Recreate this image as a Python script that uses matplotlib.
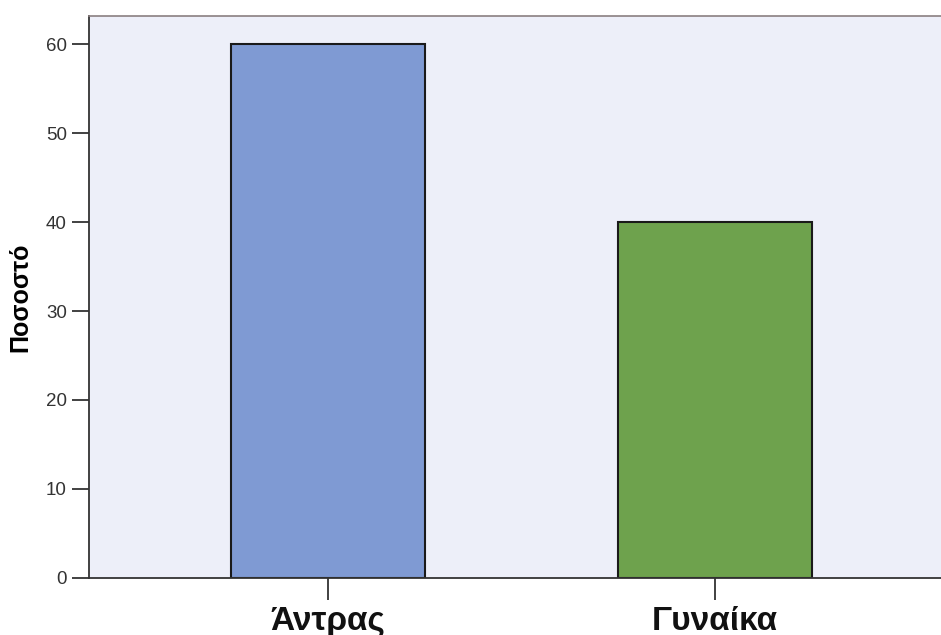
import matplotlib
matplotlib.use("Agg")
import matplotlib.pyplot as plt

# percentage by sex
categories = ["Άντρας", "Γυναίκα"]
percent = [60.0, 40.0]
bar_colors = ["#7f9ad3", "#6ea24d"]
yticks = [0, 10, 20, 30, 40, 50, 60]

plt.rcParams["font.family"] = ["Liberation Sans", "DejaVu Sans"]

fig = plt.figure(figsize=(9.41, 6.35), dpi=100)
ax = fig.add_axes([0.0946, 0.0898, 0.9054, 0.885])
ax.set_facecolor("#edeff9")

x = range(len(categories))
ax.bar(x, percent, width=0.5, color=bar_colors,
       edgecolor="#1a1a1a", linewidth=1.5, zorder=2)

ax.set_xlim(-0.618, 1.584)
ax.set_ylim(0, 63.15)

ax.set_yticks(yticks)
ax.set_xticks(list(x))
ax.set_xticklabels(categories, fontsize=24, fontweight="bold")
ax.tick_params(axis="y", length=12, width=1.3, labelsize=13.5,
               colors="#333333", pad=4)
ax.tick_params(axis="x", length=16, width=1.3, pad=4,
               colors="#333333", labelcolor="#111111")

ax.set_ylabel("Ποσοστό", fontsize=18, fontweight="bold", labelpad=10)

ax.spines["right"].set_visible(False)
ax.spines["left"].set_color("#333333")
ax.spines["left"].set_linewidth(1.3)
ax.spines["bottom"].set_color("#333333")
ax.spines["bottom"].set_linewidth(1.3)
ax.spines["top"].set_color("#8a7f80")
ax.spines["top"].set_linewidth(1.2)

fig.savefig("out.png", dpi=100)
